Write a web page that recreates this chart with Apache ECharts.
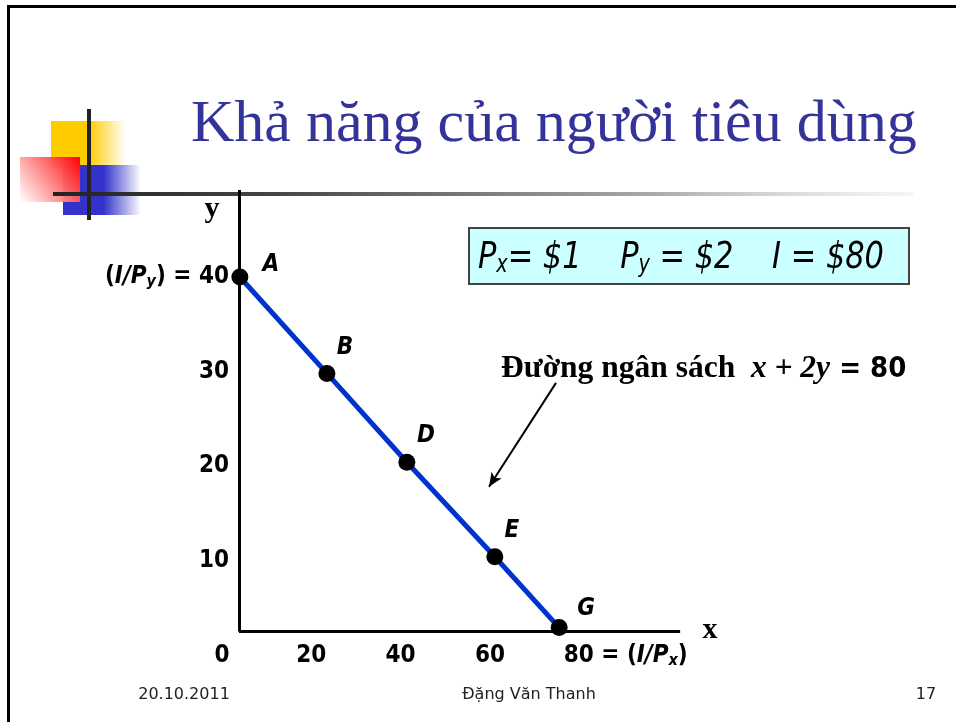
<!DOCTYPE html>
<html>
<head>
<meta charset="utf-8">
<title>Khả năng của người tiêu dùng</title>
<script src="https://cdn.jsdelivr.net/npm/echarts@6/dist/echarts.min.js"></script>
<style>
  html, body { margin: 0; padding: 0; background: #fff; }
  #chart { width: 956px; height: 722px; }
</style>
</head>
<body>
<div id="chart"></div>
<script>
// điểm trên đường ngân sách (đọc theo thang của nhãn trục)
const pointNames = ["A", "B", "D", "E", "G"];
const xValues = [4, 23.5, 41.4, 61.1, 75.5];
const yValues = [40, 29.8, 20.4, 10.4, 2.9];
// nhãn trục
const xTicks = [0, 20, 40, 60, 80];
const yTicks = [10, 20, 30, 40];
// góc và đầu mút của hai trục vẽ trên hình
const axisCorner = [3.8, 2.5];
const axisEnd = [102.6, 49.2];
// mũi tên chỉ vào đường ngân sách
const arrowFrom = [74.8, 28.8];
const arrowTo = [59.8, 17.8];

const NARROW = '"Liberation Sans Narrow", "DejaVu Sans Condensed", "Arial Narrow", sans-serif';
const SERIF = '"Liberation Serif", "Times New Roman", serif';

// nhãn lệch so với tâm điểm
const labelOffsets = [[31, -12], [18, -26], [19, -26], [17, -26], [27, -19]];

let myChart = echarts.init(document.getElementById("chart"), null, { renderer: "canvas" });

const axisRich = {
  b: { fontFamily: NARROW, fontWeight: "bold", fontSize: 24, color: "#000", lineHeight: 26 },
  i: { fontFamily: NARROW, fontWeight: "bold", fontStyle: "italic", fontSize: 24, color: "#000", lineHeight: 26 },
  s: { fontFamily: NARROW, fontWeight: "bold", fontStyle: "italic", fontSize: 16, color: "#000", lineHeight: 8, verticalAlign: "bottom" },
  sp: { width: 93 }
};

myChart.setOption({
  animation: false,
  grid: { left: 222, top: 182.5, width: 464.4, height: 472.5, containLabel: false },
  xAxis: {
    type: "value",
    min: 0,
    max: 104,
    interval: 20,
    axisLine: { show: false },
    axisTick: { show: false },
    splitLine: { show: false },
    axisLabel: {
      margin: -12,
      showMaxLabel: false,
      rich: axisRich,
      formatter: function (v) {
        if (xTicks.indexOf(v) < 0) return "";
        if (v === 80) return "{sp|}{b|80 = (}{i|I/P}{s|x}{b|)}";
        return "{b|" + v + "}";
      }
    }
  },
  yAxis: {
    type: "value",
    min: 0,
    max: 50,
    interval: 10,
    axisLine: { show: false },
    axisTick: { show: false },
    splitLine: { show: false },
    axisLabel: {
      margin: -7,
      rich: axisRich,
      formatter: function (v) {
        if (yTicks.indexOf(v) < 0) return "";
        if (v === 40) return "{b|(}{i|I/P}{s|y}{b|) = 40}";
        return "{b|" + v + "}";
      }
    }
  },
  series: [
    {
      type: "line",
      data: xValues.map(function (x, i) {
        return { value: [x, yValues[i]], label: { offset: labelOffsets[i] } };
      }),
      symbol: "circle",
      symbolSize: 17,
      itemStyle: { color: "#000" },
      lineStyle: { color: "#0033cc", width: 5 },
      label: {
        show: true,
        position: "inside",
        formatter: function (p) { return pointNames[p.dataIndex]; },
        fontFamily: NARROW,
        fontWeight: "bold",
        fontStyle: "italic",
        fontSize: 24,
        color: "#000"
      },
      emphasis: { disabled: true },
      z: 3,
      markLine: {
        silent: true,
        symbol: "none",
        label: { show: false },
        lineStyle: { color: "#000", width: 3, type: "solid" },
        emphasis: { disabled: true },
        data: [
          [{ coord: [axisCorner[0], axisEnd[1]] }, { coord: axisCorner }],
          [{ coord: axisCorner }, { coord: [axisEnd[0], axisCorner[1]] }],
          [
            { coord: arrowFrom, lineStyle: { width: 2 } },
            { coord: arrowTo, symbol: "arrow", symbolSize: [9, 14] }
          ]
        ]
      }
    }
  ],
  graphic: [
    // khung slide
    { type: "rect", shape: { x: 7, y: 5, width: 949, height: 3 }, style: { fill: "#000" } },
    { type: "rect", shape: { x: 7, y: 5, width: 3, height: 717 }, style: { fill: "#000" } },
    // hình trang trí
    {
      type: "rect", shape: { x: 51, y: 121, width: 75, height: 45 },
      style: { fill: { type: "linear", x: 0, y: 0, x2: 1, y2: 0, colorStops: [
        { offset: 0, color: "#ffcc00" }, { offset: 0.5, color: "#ffcc00" }, { offset: 1, color: "rgba(255,204,0,0)" }] } }
    },
    {
      type: "rect", shape: { x: 63, y: 165, width: 78, height: 50 },
      style: { fill: { type: "linear", x: 0, y: 0, x2: 1, y2: 0, colorStops: [
        { offset: 0, color: "#3333cc" }, { offset: 0.52, color: "#3333cc" }, { offset: 1, color: "rgba(51,51,204,0)" }] } }
    },
    {
      type: "rect", shape: { x: 20, y: 157, width: 60, height: 45 },
      style: { fill: { type: "linear", x: 1, y: 0, x2: 0, y2: 1, colorStops: [
        { offset: 0, color: "#ff0000" }, { offset: 1, color: "rgba(255,255,255,0.9)" }] } }
    },
    { type: "rect", shape: { x: 87, y: 109, width: 4, height: 111 }, style: { fill: "#222" } },
    {
      type: "rect", shape: { x: 53, y: 192, width: 860, height: 4 },
      style: { fill: { type: "linear", x: 0, y: 0, x2: 1, y2: 0, colorStops: [
        { offset: 0, color: "#222" }, { offset: 0.25, color: "#444" }, { offset: 0.7, color: "#aaa" }, { offset: 1, color: "rgba(230,230,230,0.4)" }] } }
    },
    // tiêu đề
    {
      type: "text", x: 191, y: 125,
      style: { text: "Khả năng của người tiêu dùng", fontFamily: SERIF, fontSize: 60, fill: "#333399", verticalAlign: "middle" }
    },
    // hộp giá
    { type: "rect", shape: { x: 469, y: 228, width: 440, height: 56 }, style: { fill: "#ccffff", stroke: "#444", lineWidth: 2 } },
    {
      type: "text", x: 478, y: 258, scaleX: 0.89,
      style: {
        text: "{m|P}{s|x}{m|= $1    P}{s|y}{m| = $2    I = $80}",
        verticalAlign: "middle",
        rich: {
          m: { fontFamily: NARROW, fontStyle: "italic", fontSize: 38, fill: "#000", lineHeight: 40 },
          s: { fontFamily: NARROW, fontStyle: "italic", fontSize: 24, fill: "#000", lineHeight: 12, verticalAlign: "bottom" }
        }
      }
    },
    // chú thích đường ngân sách
    {
      type: "text", x: 501, y: 369,
      style: {
        text: "{t|Đường ngân sách  }{v|x + 2y}{n| = 80}",
        verticalAlign: "middle",
        rich: {
          t: { fontFamily: SERIF, fontWeight: "bold", fontSize: 31.5, fill: "#000" },
          v: { fontFamily: SERIF, fontWeight: "bold", fontStyle: "italic", fontSize: 31.5, fill: "#000" },
          n: { fontFamily: NARROW, fontWeight: "bold", fontSize: 29, fill: "#000" }
        }
      }
    },
    // tên trục
    { type: "text", x: 212, y: 209, style: { text: "y", fontFamily: SERIF, fontWeight: "bold", fontSize: 30, fill: "#000", align: "center", verticalAlign: "middle" } },
    { type: "text", x: 710, y: 630, style: { text: "x", fontFamily: SERIF, fontWeight: "bold", fontSize: 30, fill: "#000", align: "center", verticalAlign: "middle" } },
    // chân trang
    { type: "text", x: 184, y: 695, style: { text: "20.10.2011", fontFamily: '"DejaVu Sans", sans-serif', fontSize: 16, fill: "#222", align: "center", verticalAlign: "middle" } },
    { type: "text", x: 529, y: 695, style: { text: "Đặng Văn Thanh", fontFamily: '"DejaVu Sans", sans-serif', fontSize: 16, fill: "#222", align: "center", verticalAlign: "middle" } },
    { type: "text", x: 926, y: 695, style: { text: "17", fontFamily: '"DejaVu Sans", sans-serif', fontSize: 16, fill: "#222", align: "center", verticalAlign: "middle" } }
  ]
});
</script>
</body>
</html>
